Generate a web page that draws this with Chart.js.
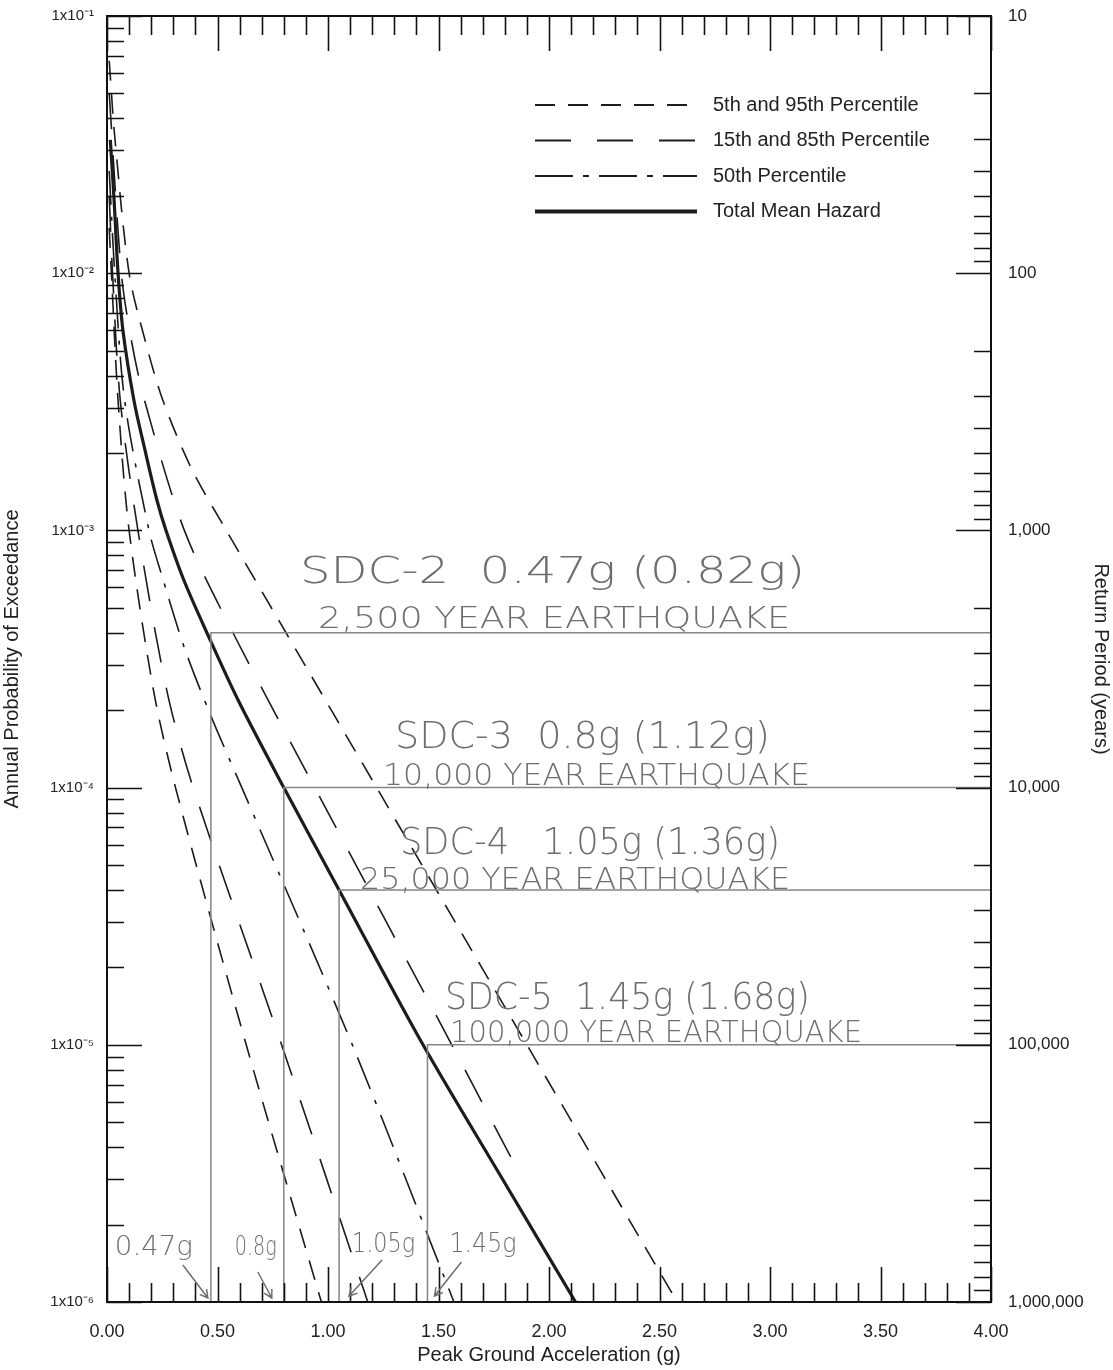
<!DOCTYPE html>
<html>
<head>
<meta charset="utf-8">
<script src="https://cdn.jsdelivr.net/npm/chart.js@4.4.1/dist/chart.umd.min.js"></script>
<style>
  html, body { margin: 0; padding: 0; background: #fff; }
</style>
</head>
<body>
<canvas id="hazard" width="1113" height="1370"></canvas>
<script>
// hazard curves: PGA (g) vs annual probability of exceedance
var p95Pga  = [0.01, 0.035, 0.10, 0.172, 0.253, 0.385, 0.54, 0.81, 1.22, 1.90, 2.58];
var p95Prob = [6.7e-2, 3.4e-2, 1e-2, 5.5e-3, 3.2e-3, 1.72e-3, 1e-3, 4e-4, 1e-4, 1e-5, 1e-6];

var p85Pga  = [0.01, 0.065, 0.11, 0.17, 0.35, 0.57, 0.94, 1.56, 1.88];
var p85Prob = [5e-2, 1e-2, 5.5e-3, 3.2e-3, 1e-3, 4e-4, 1e-4, 1e-5, 3e-6];

var meanPga  = [0.015, 0.032, 0.05, 0.072, 0.122, 0.172, 0.226, 0.267, 0.348, 0.452, 0.593, 0.80, 1.05, 1.43, 1.79, 2.12];
var meanProb = [3.3e-2, 1.93e-2, 1e-2, 6e-3, 3.2e-3, 2.05e-3, 1.31e-3, 1e-3, 6.4e-4, 4e-4, 2.19e-4, 1e-4, 4e-5, 1e-5, 3e-6, 1e-6];

var p50Pga  = [0.01, 0.035, 0.08, 0.19, 0.25, 0.35, 0.47, 0.61, 1.11, 1.57];
var p50Prob = [2.5e-2, 1e-2, 3.2e-3, 1e-3, 6.6e-4, 3.5e-4, 1.9e-4, 1e-4, 1e-5, 1e-6];

var p15Pga  = [0.01, 0.025, 0.06, 0.14, 0.27, 0.39, 0.79, 1.18];
var p15Prob = [2e-2, 1e-2, 3.2e-3, 1e-3, 2.4e-4, 1e-4, 1e-5, 1e-6];

var p05Pga  = [0.01, 0.02, 0.05, 0.10, 0.21, 0.31, 0.63, 0.97];
var p05Prob = [1.5e-2, 1e-2, 3.2e-3, 1e-3, 2.4e-4, 1e-4, 1e-5, 1e-6];

// design levels marked by hand
var sdcPga  = [0.47, 0.8, 1.05, 1.45];
var sdcProb = [4e-4, 1e-4, 4e-5, 1e-5];
var sdcTitles = ['SDC-2  0.47g (0.82g)', 'SDC-3  0.8g (1.12g)', 'SDC-4   1.05g (1.36g)', 'SDC-5  1.45g (1.68g)'];
var sdcEvents = ['2,500 YEAR EARTHQUAKE', '10,000 YEAR EARTHQUAKE', '25,000 YEAR EARTHQUAKE', '100,000 YEAR EARTHQUAKE'];
var sdcShort  = ['0.47g', '0.8g', '1.05g', '1.45g'];

var legendLabels = ['5th and 95th Percentile', '15th and 85th Percentile', '50th Percentile', 'Total Mean Hazard'];

var probTickLabels   = ['1x10\u207B\u00B9', '1x10\u207B\u00B2', '1x10\u207B\u00B3', '1x10\u207B\u2074', '1x10\u207B\u2075', '1x10\u207B\u2076'];
var periodTickLabels = ['10', '100', '1,000', '10,000', '100,000', '1,000,000'];
var pgaTickLabels    = ['0.00', '0.50', '1.00', '1.50', '2.00', '2.50', '3.00', '3.50', '4.00'];

// where the handwriting sits (layout only)
var noteLayout = [
  { g1: 0.873, w1: 505, up1: 50, g2: 0.955, w2: 472, up2: 5 },
  { g1: 1.303, w1: 375, up1: 40, g2: 1.249, w2: 427, up2: 3 },
  { g1: 1.326, w1: 380, up1: 36, g2: 1.145, w2: 430, up2: 1 },
  { g1: 1.529, w1: 365, up1: 36, g2: 1.552, w2: 412, up2: 3 }
];
var shortLayout = [
  { dx: -96, w: 78, base: 47, a: [-28, -37, -3, -4] },
  { dx: -49, w: 42, base: 47, a: [-26, -30, -12, -4] },
  { dx: 13, w: 63, base: 50, a: [43, -42, 10, -6] },
  { dx: 22, w: 67, base: 50, a: [34, -40, 7, -6] }
];

function pts(xs, ys) {
  return xs.map(function (v, i) { return { x: v, y: ys[i] }; });
}

var ink = '#1c1c1c';
var shortDash = [20, 13];
var longDash = [36, 26];
var dashDot = [34, 12, 4, 12];

function curve(label, xs, ys, dash, width) {
  return {
    label: label,
    data: pts(xs, ys),
    borderColor: ink,
    borderWidth: width,
    borderDash: dash,
    pointRadius: 0,
    fill: false,
    tension: 0.3
  };
}

var datasets = [];
sdcPga.forEach(function (g, i) {
  datasets.push({
    label: 'ref' + i,
    data: [{ x: g, y: 1e-6 }, { x: g, y: sdcProb[i] }, { x: 4, y: sdcProb[i] }],
    borderColor: '#858585',
    borderWidth: 1.5,
    pointRadius: 0,
    tension: 0,
    fill: false
  });
});
datasets.push(curve('5th', p05Pga, p05Prob, shortDash, 1.6));
datasets.push(curve('95th', p95Pga, p95Prob, shortDash, 1.6));
datasets.push(curve('15th', p15Pga, p15Prob, longDash, 1.6));
datasets.push(curve('85th', p85Pga, p85Prob, longDash, 1.6));
datasets.push(curve('50th', p50Pga, p50Prob, dashDot, 1.6));
datasets.push(curve('mean', meanPga, meanProb, [], 3.2));
var legendStyles = [
  { dash: shortDash, width: 1.8 },
  { dash: longDash, width: 1.8 },
  { dash: [38, 10, 6, 10], width: 1.8 },
  { dash: [], width: 4 }
];

function probTicks() {
  var out = [];
  for (var n = -6; n <= -2; n++) {
    for (var k = 1; k <= 9; k++) out.push({ value: k * Math.pow(10, n), major: k === 1 });
  }
  out.push({ value: 0.1, major: true });
  return out;
}
function periodTicks() {
  var out = [];
  for (var n = 1; n <= 5; n++) {
    for (var k = 1; k <= 9; k++) out.push({ value: 1 / (k * Math.pow(10, n)), major: k === 1 });
  }
  out.push({ value: 1e-6, major: true });
  return out;
}
function pgaTicks() {
  var out = [];
  for (var i = 0; i <= 40; i++) out.push({ value: i / 10, major: i % 5 === 0 });
  return out;
}

function drawFit(ctx, text, x, y, w) {
  var m = ctx.measureText(text).width;
  ctx.save();
  ctx.translate(x, y);
  ctx.scale(w / m, 1);
  ctx.fillText(text, 0, 0);
  ctx.restore();
}

var paperPlugin = {
  id: 'paper',
  afterDatasetsDraw: function (chart) {
    var ctx = chart.ctx, a = chart.chartArea;
    var sx = chart.scales.x, sy = chart.scales.y, sr = chart.scales.y2;
    ctx.save();

    // frame and inward ticks
    ctx.strokeStyle = '#111';
    ctx.lineWidth = 2;
    ctx.strokeRect(a.left, a.top, a.right - a.left, a.bottom - a.top);
    ctx.lineWidth = 1.6;
    ctx.beginPath();
    sy.ticks.forEach(function (t) {
      var py = Math.round(sy.getPixelForValue(t.value)) + 0.5, len = t.major ? 35 : 17;
      ctx.moveTo(a.left, py); ctx.lineTo(a.left + len, py);
    });
    sr.ticks.forEach(function (t) {
      var py = Math.round(sr.getPixelForValue(t.value)) + 0.5, len = t.major ? 35 : 17;
      ctx.moveTo(a.right, py); ctx.lineTo(a.right - len, py);
    });
    sx.ticks.forEach(function (t) {
      var px = Math.round(sx.getPixelForValue(t.value)) + 0.5, len = t.major ? 35 : 19;
      ctx.moveTo(px, a.bottom); ctx.lineTo(px, a.bottom - len);
      ctx.moveTo(px, a.top); ctx.lineTo(px, a.top + len);
    });
    ctx.stroke();

    // legend
    var lx0 = a.right - 456, lx1 = a.right - 294, tx = a.right - 278;
    ctx.font = "20px 'Liberation Sans', Arial, sans-serif";
    ctx.textBaseline = 'middle';
    ctx.fillStyle = '#222';
    legendLabels.forEach(function (lab, i) {
      var ly = a.top + 89 + i * 35.5;
      ctx.strokeStyle = ink;
      ctx.lineWidth = legendStyles[i].width;
      ctx.setLineDash(legendStyles[i].dash);
      ctx.beginPath();
      ctx.moveTo(lx0, ly); ctx.lineTo(lx1, ly);
      ctx.stroke();
      ctx.setLineDash([]);
      ctx.fillText(lab, tx, ly);
    });

    // handwritten notes
    ctx.fillStyle = '#6e6e6e';
    ctx.strokeStyle = '#6e6e6e';
    ctx.textBaseline = 'alphabetic';
    sdcPga.forEach(function (g, i) {
      var L = noteLayout[i], hy = sy.getPixelForValue(sdcProb[i]);
      ctx.font = "200 38px 'DejaVu Sans', sans-serif";
      drawFit(ctx, sdcTitles[i], sx.getPixelForValue(L.g1), hy - L.up1, L.w1);
      ctx.font = "200 31px 'DejaVu Sans', sans-serif";
      drawFit(ctx, sdcEvents[i], sx.getPixelForValue(L.g2), hy - L.up2, L.w2);

      var S = shortLayout[i], vx = sx.getPixelForValue(g);
      ctx.font = "200 26px 'DejaVu Sans', sans-serif";
      drawFit(ctx, sdcShort[i], vx + S.dx, a.bottom - S.base, S.w);
      var x0 = vx + S.a[0], y0 = a.bottom + S.a[1], x1 = vx + S.a[2], y1 = a.bottom + S.a[3];
      var ang = Math.atan2(y1 - y0, x1 - x0);
      ctx.lineWidth = 1.5;
      ctx.beginPath();
      ctx.moveTo(x0, y0); ctx.lineTo(x1, y1);
      ctx.moveTo(x1 - 9 * Math.cos(ang - 0.5), y1 - 9 * Math.sin(ang - 0.5));
      ctx.lineTo(x1, y1);
      ctx.lineTo(x1 - 9 * Math.cos(ang + 0.5), y1 - 9 * Math.sin(ang + 0.5));
      ctx.stroke();
    });
    ctx.restore();
  }
};

var tickFont = { family: "'Liberation Sans', Arial, sans-serif" };

function noPadY(s, w) {
  s.width = w;
  s.paddingTop = 0;
  s.paddingBottom = 0;
}

new Chart(document.getElementById('hazard'), {
  type: 'line',
  data: { datasets: datasets },
  plugins: [paperPlugin],
  options: {
    responsive: false,
    animation: false,
    devicePixelRatio: 1,
    layout: { padding: { top: 16, left: 0, right: 0, bottom: 0 } },
    plugins: { legend: { display: false }, tooltip: { enabled: false } },
    scales: {
      x: {
        type: 'linear',
        min: 0,
        max: 4,
        grid: { display: false, drawTicks: false, tickLength: 0 },
        border: { display: false },
        afterFit: function (s) { s.height = 68; s.paddingLeft = 0; s.paddingRight = 0; },
        afterBuildTicks: function (s) { s.ticks = pgaTicks(); },
        ticks: {
          autoSkip: false,
          maxRotation: 0,
          padding: 19,
          color: '#222',
          font: { family: tickFont.family, size: 18 },
          callback: function (v) {
            var i = Math.round(v * 10);
            return i % 5 === 0 ? pgaTickLabels[i / 5] : '';
          }
        },
        title: {
          display: true,
          text: 'Peak Ground Acceleration (g)',
          color: '#222',
          font: { family: tickFont.family, size: 20 },
          padding: { top: 0, bottom: 3 }
        }
      },
      y: {
        type: 'logarithmic',
        position: 'left',
        min: 1e-6,
        max: 1e-1,
        grid: { display: false, drawTicks: false, tickLength: 0 },
        border: { display: false },
        afterFit: function (s) { noPadY(s, 107); },
        afterBuildTicks: function (s) { s.ticks = probTicks(); },
        ticks: {
          autoSkip: false,
          padding: 13,
          color: '#222',
          font: { family: tickFont.family, size: 15 },
          callback: function (v) {
            var d = Math.round(-Math.log10(v));
            return Math.abs(v - Math.pow(10, -d)) < 1e-12 ? probTickLabels[d - 1] : '';
          }
        },
        title: {
          display: true,
          text: 'Annual Probability of Exceedance',
          color: '#222',
          font: { family: tickFont.family, size: 20 },
          padding: { top: 0, bottom: 0 }
        }
      },
      y2: {
        type: 'logarithmic',
        position: 'right',
        min: 1e-6,
        max: 1e-1,
        grid: { display: false, drawTicks: false, tickLength: 0 },
        border: { display: false },
        afterFit: function (s) { noPadY(s, 122); },
        afterBuildTicks: function (s) { s.ticks = periodTicks(); },
        ticks: {
          autoSkip: false,
          padding: 17,
          color: '#222',
          font: { family: tickFont.family, size: 17 },
          callback: function (v) {
            var d = Math.round(-Math.log10(v));
            return Math.abs(v - Math.pow(10, -d)) < 1e-12 ? periodTickLabels[d - 1] : '';
          }
        },
        title: {
          display: true,
          text: 'Return Period (years)',
          color: '#222',
          font: { family: tickFont.family, size: 20 },
          padding: { top: 0, bottom: 6 }
        }
      }
    }
  }
});
</script>
</body>
</html>
